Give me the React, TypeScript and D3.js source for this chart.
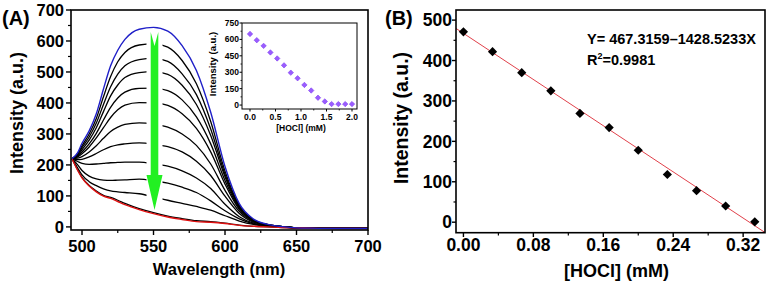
import React from 'react';
import * as d3 from 'd3';

// ---------- Panel A: emission spectra ----------
const wavelengths = [493, 497, 500, 505, 510, 515, 520, 525, 530, 540, 550, 560, 570, 580, 590, 600, 610, 620, 630, 640, 650, 660, 680, 700];
const spectrumBlue = [220, 240, 270, 310, 365, 445, 520, 570, 605, 638, 644, 632, 585, 505, 370, 195, 75, 25, 8, 1, -3, -4, -5, -5];
const spectrum1 = [220, 237, 262, 300, 350, 420, 485, 533, 563, 587, 591, 580, 537, 462, 340, 180, 70, 23, 7, 1, -3, -4, -5, -5];
const spectrum2 = [220, 234, 256, 290, 335, 395, 452, 493, 520, 540, 544, 534, 494, 427, 316, 170, 66, 22, 7, 1, -3, -4, -5, -5];
const spectrum3 = [220, 231, 249, 280, 320, 372, 423, 458, 482, 498, 501, 492, 457, 395, 295, 162, 63, 21, 7, 1, -3, -4, -5, -5];
const spectrum4 = [220, 228, 242, 268, 302, 345, 386, 416, 435, 447, 448, 440, 410, 355, 268, 150, 60, 20, 6, 1, -3, -4, -5, -5];
const spectrum5 = [220, 226, 236, 258, 287, 320, 353, 378, 393, 401, 400, 392, 365, 318, 242, 138, 56, 19, 6, 0, -3, -4, -5, -5];
const spectrum6 = [220, 222, 227, 242, 262, 286, 308, 322, 331, 336, 332, 322, 300, 263, 203, 118, 50, 17, 5, 0, -3, -4, -5, -5];
const spectrum7 = [220, 217, 218, 226, 237, 249, 259, 265, 268, 271, 267, 259, 242, 212, 166, 99, 43, 15, 5, 0, -3, -4, -5, -5];
const spectrum8 = [220, 211, 205, 202, 203, 205, 207, 208, 209, 209, 204, 196, 181, 158, 124, 73, 33, 12, 4, 0, -3, -4, -5, -5];
const spectrum9 = [220, 200, 182, 164, 155, 151, 150, 151, 152, 154, 149, 141, 128, 111, 84, 52, 26, 10, 3, 0, -3, -4, -5, -5];
const spectrum10 = [220, 190, 168, 146, 133, 123, 116, 113, 111, 107, 97, 86, 76, 66, 54, 36, 19, 8, 3, 0, -3, -4, -5, -5];
const spectrum11 = [220, 184, 160, 134, 116, 102, 95, 86, 76, 59, 46, 35, 27, 20, 17, 12, 6, 2, 0, -2, -3, -4, -5, -5];
const spectrumRed = [220, 182, 158, 132, 113, 99, 92, 82, 72, 56, 43, 32, 24, 17, 15, 11, 5, 2, 0, -2, -3, -4, -5, -5];
const blackSpectra = [spectrum1, spectrum2, spectrum3, spectrum4, spectrum5, spectrum6, spectrum7, spectrum8, spectrum9, spectrum10, spectrum11];

const aXTicks = [500, 550, 600, 650, 700];
const aXMinor = [525, 575, 625, 675];
const aYTicks = [0, 100, 200, 300, 400, 500, 600, 700];
const aYMinor = [50, 150, 250, 350, 450, 550, 650];
const arrowWavelength = 550;

// ---------- Inset ----------
const insetConc = [0, 0.133, 0.267, 0.4, 0.533, 0.667, 0.8, 0.933, 1.067, 1.2, 1.333, 1.467, 1.6, 1.733, 1.867, 2.0];
const insetIntensity = [650, 593, 541, 481, 426, 363, 296, 245, 184, 133, 67, 33, 9, 9, 9, 9];
const insetXTicks = [0, 0.5, 1.0, 1.5, 2.0];
const insetXMinor = [0.25, 0.75, 1.25, 1.75];
const insetYTicks = [0, 150, 300, 450, 600, 750];
const insetYMinor = [75, 225, 375, 525, 675];

// ---------- Panel B: linear fit ----------
const hoclConc = [0, 0.0333, 0.0667, 0.1, 0.1333, 0.1667, 0.2, 0.2333, 0.2667, 0.3, 0.3333];
const fitPoints = [471, 422, 370, 325, 269, 234, 178, 118, 78, 40, 1];
const fitIntercept = 467.3159;
const fitSlope = -1428.5233;
const bXTicks = [0, 0.08, 0.16, 0.24, 0.32];
const bXMinor = [0.04, 0.12, 0.2, 0.28];
const bYTicks = [0, 100, 200, 300, 400, 500];
const bYMinor = [50, 150, 250, 350, 450];

const FONT = "'Liberation Sans', Arial, sans-serif";

export default function App() {
  // Panel A scales
  const ax = d3.scaleLinear().domain([492.3, 700]).range([71, 368]);
  const ay = d3.scaleLinear().domain([-10, 700]).range([230, 10]);
  const aLine = (vals: number[]) =>
    d3.line<number>().x((_, i) => ax(wavelengths[i])).y((d) => ay(d)).curve(d3.curveMonotoneX)(vals) || '';

  // Inset scales
  const ix = d3.scaleLinear().domain([-0.157, 2.098]).range([242, 357]);
  const iy = d3.scaleLinear().domain([-36, 750]).range([109, 23]);

  // Panel B scales
  const bx = d3.scaleLinear().domain([-0.0085, 0.345]).range([456, 765]);
  const by = d3.scaleLinear().domain([-26, 525]).range([232.7, 10]);
  const fitX = bx.domain();
  const fitLine = d3.line<number>().x((d) => bx(d)).y((d) => by(fitIntercept + fitSlope * d))(fitX) || '';

  const diamond = (cx: number, cy: number, r: number) =>
    `M${cx},${cy - r}L${cx + r},${cy}L${cx},${cy + r}L${cx - r},${cy}Z`;

  const axc = ax(arrowWavelength) + 1;

  return (
    <svg width={771} height={288} style={{ position: 'absolute', left: 0, top: 0, background: '#fff' }} fontFamily={FONT}>
      <defs>
        <clipPath id="clipA"><rect x={71} y={10} width={297} height={220} /></clipPath>
        <clipPath id="clipB"><rect x={456} y={10} width={309} height={222.7} /></clipPath>
      </defs>
      <rect x={0} y={0} width={771} height={288} fill="#fff" />

      {/* ===== Panel A ===== */}
      <g clipPath="url(#clipA)">
        {blackSpectra.map((s, i) => (
          <path key={i} d={aLine(s)} fill="none" stroke="#000" strokeWidth={1.3} />
        ))}
        <path d={aLine(spectrumRed)} fill="none" stroke="#e01010" strokeWidth={1.4} />
        <path d={aLine(spectrumBlue)} fill="none" stroke="#1f1fc8" strokeWidth={1.4} />
      </g>
      {/* arrow with white backing */}
      <rect x={axc - 8} y={32} width={16} height={176} fill="#fff" />
      <path
        d={`M${axc - 3.8},32 L${axc},46 L${axc + 3.8},32 L${axc + 3.8},175 L${axc + 8},175 L${axc},210 L${axc - 8},175 L${axc - 3.8},175 Z`}
        fill="#22f022"
      />
      <rect x={71} y={10} width={297} height={220} fill="none" stroke="#000" strokeWidth={1.6} />
      {aYTicks.map((t) => (
        <g key={'ay' + t}>
          <line x1={66} x2={71} y1={ay(t)} y2={ay(t)} stroke="#000" strokeWidth={1.4} />
          <text x={64} y={ay(t)} dy="0.36em" textAnchor="end" fontSize={16.5} fontWeight="bold">{t}</text>
        </g>
      ))}
      {aYMinor.map((t) => (
        <line key={'aym' + t} x1={68} x2={71} y1={ay(t)} y2={ay(t)} stroke="#000" strokeWidth={1.2} />
      ))}
      {aXTicks.map((t) => (
        <g key={'ax' + t}>
          <line x1={ax(t)} x2={ax(t)} y1={230} y2={235} stroke="#000" strokeWidth={1.4} />
          <text x={ax(t)} y={252} textAnchor="middle" fontSize={16.5} fontWeight="bold">{t}</text>
        </g>
      ))}
      {aXMinor.map((t) => (
        <line key={'axm' + t} x1={ax(t)} x2={ax(t)} y1={230} y2={233} stroke="#000" strokeWidth={1.2} />
      ))}
      <text x={219} y={275} textAnchor="middle" fontSize={16.5} fontWeight="bold">Wavelength (nm)</text>
      <text transform="translate(23,113) rotate(-90)" textAnchor="middle" fontSize={18} fontWeight="bold">Intensity (a.u.)</text>
      <text x={2} y={25} fontSize={20} fontWeight="bold">(A)</text>

      {/* ===== Inset ===== */}
      <rect x={242} y={23} width={115} height={86} fill="#fff" stroke="#000" strokeWidth={1} />
      {insetConc.map((c, i) => (
        <path key={'ip' + i} d={diamond(ix(c), iy(insetIntensity[i]), 2.7)} fill="#9a5cff" stroke="#7d3ef0" strokeWidth={0.6} />
      ))}
      {insetYTicks.map((t) => (
        <g key={'iy' + t}>
          <line x1={239.5} x2={242} y1={iy(t)} y2={iy(t)} stroke="#000" strokeWidth={1} />
          <text x={239} y={iy(t)} dy="0.36em" textAnchor="end" fontSize={8.5} fontWeight="bold">{t}</text>
        </g>
      ))}
      {insetYMinor.map((t) => (
        <line key={'iym' + t} x1={240.5} x2={242} y1={iy(t)} y2={iy(t)} stroke="#000" strokeWidth={0.8} />
      ))}
      {insetXTicks.map((t) => (
        <g key={'ix' + t}>
          <line x1={ix(t)} x2={ix(t)} y1={109} y2={111.5} stroke="#000" strokeWidth={1} />
          <text x={ix(t)} y={120} textAnchor="middle" fontSize={8.5} fontWeight="bold">{t.toFixed(1)}</text>
        </g>
      ))}
      {insetXMinor.map((t) => (
        <line key={'ixm' + t} x1={ix(t)} x2={ix(t)} y1={109} y2={110.5} stroke="#000" strokeWidth={0.8} />
      ))}
      <text x={301} y={131} textAnchor="middle" fontSize={8.5} fontWeight="bold">[HOCl] (mM)</text>
      <text transform="translate(216,64) rotate(-90)" textAnchor="middle" fontSize={9.5} fontWeight="bold">Intensity (a.u.)</text>

      {/* ===== Panel B ===== */}
      <g clipPath="url(#clipB)">
        <path d={fitLine} fill="none" stroke="#e0404a" strokeWidth={1} />
        {hoclConc.map((c, i) => (
          <path key={'bp' + i} d={diamond(bx(c), by(fitPoints[i]), 4.6)} fill="#000" />
        ))}
      </g>
      <rect x={456} y={10} width={309} height={222.7} fill="none" stroke="#000" strokeWidth={1.6} />
      {bYTicks.map((t) => (
        <g key={'by' + t}>
          <line x1={452} x2={456} y1={by(t)} y2={by(t)} stroke="#000" strokeWidth={1.4} />
          <text x={452} y={by(t)} dy="0.36em" textAnchor="end" fontSize={17.5} fontWeight="bold">{t}</text>
        </g>
      ))}
      {bYMinor.map((t) => (
        <line key={'bym' + t} x1={453.5} x2={456} y1={by(t)} y2={by(t)} stroke="#000" strokeWidth={1.2} />
      ))}
      {bXTicks.map((t) => (
        <g key={'bx' + t}>
          <line x1={bx(t)} x2={bx(t)} y1={232.7} y2={237} stroke="#000" strokeWidth={1.4} />
          <text x={bx(t)} y={251} textAnchor="middle" fontSize={17.5} fontWeight="bold">{t.toFixed(2)}</text>
        </g>
      ))}
      {bXMinor.map((t) => (
        <line key={'bxm' + t} x1={bx(t)} x2={bx(t)} y1={232.7} y2={235.5} stroke="#000" strokeWidth={1.2} />
      ))}
      <text x={616.5} y={277} textAnchor="middle" fontSize={18} fontWeight="bold">[HOCl] (mM)</text>
      <text transform="translate(408,118) rotate(-90)" textAnchor="middle" fontSize={19.5} fontWeight="bold">Intensity (a.u.)</text>
      <text x={385} y={25} fontSize={20} fontWeight="bold">(B)</text>
      <text x={587} y={44} fontSize={14.5} fontWeight="bold">Y= 467.3159–1428.5233X</text>
      <text x={587} y={65} fontSize={14.5} fontWeight="bold">
        R<tspan dy={-6} fontSize={9}>2</tspan><tspan dy={6}>=0.9981</tspan>
      </text>
    </svg>
  );
}
